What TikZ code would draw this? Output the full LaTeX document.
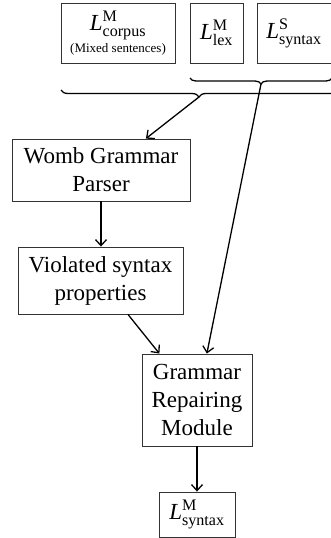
\documentclass[tikz,border=0pt]{standalone}
\usepackage{amsmath}
\usepackage{fontspec}
\setmainfont{Liberation Serif}
\usetikzlibrary{arrows.meta,decorations.pathreplacing}
\begin{document}
\begin{tikzpicture}[x=1pt,y=-1pt,
  box/.style={draw=black!80,line width=0.9pt,rectangle,inner sep=0pt,align=center,
    font=\fontsize{23}{28}\selectfont},
  flow/.style={line width=1.3pt,-{Straight Barb[length=6pt,width=11pt]}},
  bracestyle/.style={line width=1.3pt,decorate,decoration={brace,mirror,amplitude=#1}}]
\useasboundingbox (0,0) rectangle (330,538);

% input languages
\node[box,minimum width=114pt,minimum height=60pt] (corpus) at (118,33)
  {$\textit{L}^{\text{M}}_{\text{corpus}}$\\[-6pt]{\fontsize{13}{15}\selectfont (Mixed sentences)}};
\node[box,minimum width=53pt,minimum height=60pt] (lex) at (216.5,33)
  {$\textit{L}^{\text{M}}_{\text{lex}}$};
\node[box,minimum width=74pt,minimum height=60pt] (syn) at (294,33)
  {$\textit{L}^{\text{S}}_{\text{syntax}}$};

% grouping braces
\coordinate (b1s) at (190,78);
\coordinate (b1e) at (332,78);
\coordinate (b2s) at (61,90);
\coordinate (b2e) at (337,90);
\draw[bracestyle=6pt] (b1s) -- (b1e);
\draw[bracestyle=7pt] (b2s) -- (b2e);
\coordinate (t1) at (261,84);
\coordinate (t2) at (199,97);

% processing steps
\node[box,minimum width=178pt,minimum height=62pt] (womb) at (101,170)
  {Womb Grammar\\Parser};
\node[box,minimum width=165pt,minimum height=67pt] (viol) at (100.5,280.5)
  {Violated syntax\\properties};
\node[box,minimum width=110pt,minimum height=92pt] (grm) at (197,400)
  {Grammar\\Repairing\\Module};
\node[box,minimum width=76pt,minimum height=45pt] (out) at (197,514.5)
  {$\textit{L}^{\text{M}}_{\text{syntax}}$};

% connectors
\draw[flow] (t2) -- (womb.35);
\draw[flow] (womb.south) -- (womb.south |- viol.north);
\draw[flow] (viol.-51) -- (grm.129);
\draw[flow] (t1) -- (grm.78);
\draw[flow] (grm.south) -- (out.north);
\end{tikzpicture}
\end{document}
